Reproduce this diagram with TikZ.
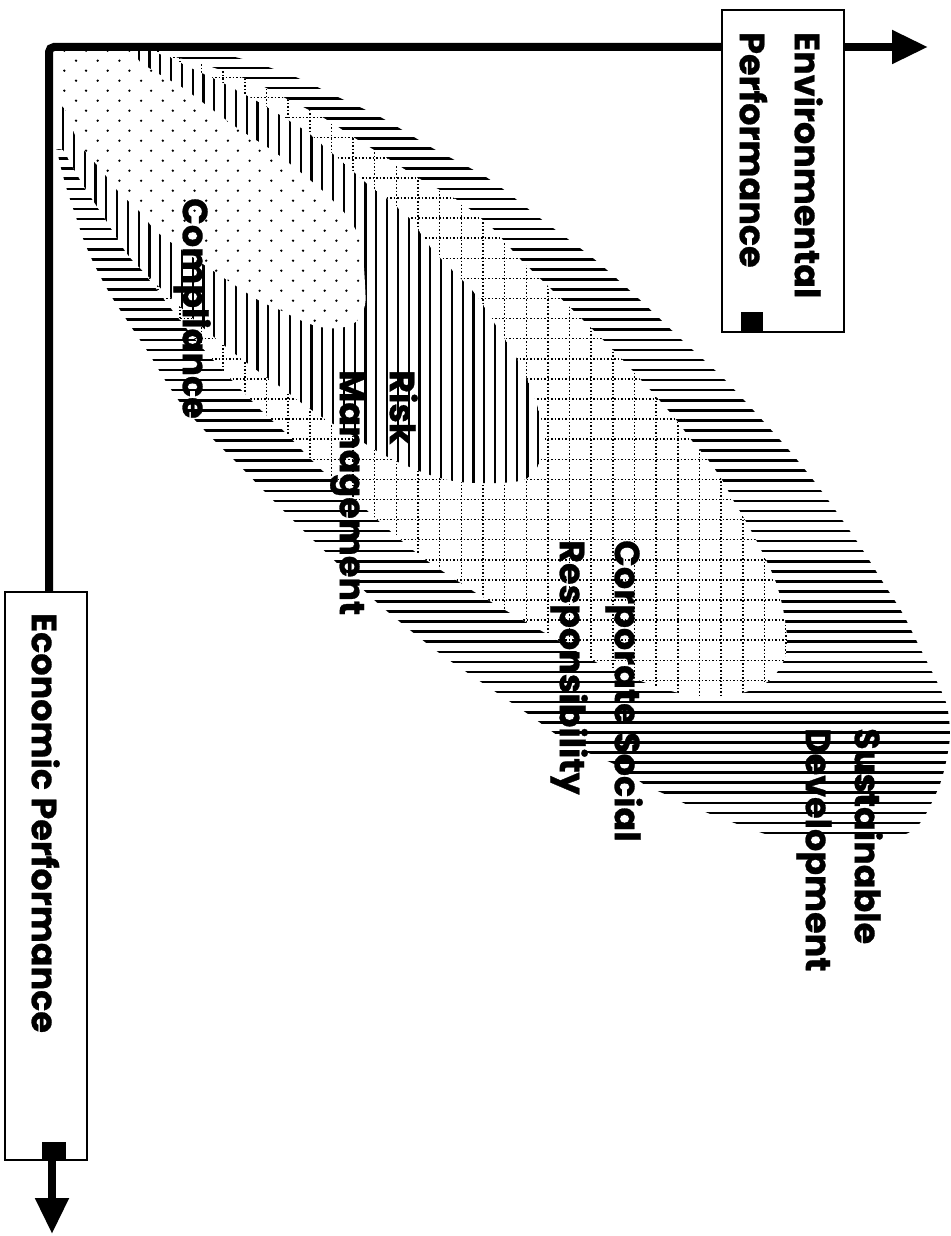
\documentclass[tikz,border=0pt]{standalone}
\usepackage{fontspec}
\newfontfamily\lblfont{Poppins}[BoldFeatures={FakeBold=0.8}]
\usetikzlibrary{arrows.meta}

% Outlines of the four nested fields, all starting at the origin of the axes
\newcommand\sdshape[1]{\path[#1] plot[smooth cycle,tension=0.5] coordinates {
 (40,40) (150,47) (205,52) (235,57) (268,67) (298,78) (340,98) (382,118) (434,149)
 (489,179) (541,219) (594,259) (639,299) (683,341) (726,381) (781,441) (814,481)
 (843,521) (864,552) (884,584) (903,614) (922,652) (938,684) (947,706) (950,735)
 (946,762) (940,784) (931,804) (920,823) (903,835) (860,840) (800,839) (772,836)
 (740,825) (713,815) (688,805) (667,795) (645,785) (618,766) (572,745) (528,714)
 (484,684) (442,655) (405,626) (372,598) (338,564) (305,532) (270,497) (238,464)
 (208,434) (182,405) (165,380) (148,352) (128,322) (110,294) (95,266) (84,241)
 (75,214) (67,190) (61,168) (56,148) (45,120)};}
\newcommand\csrshape[1]{\path[#1] plot[smooth cycle,tension=0.5] coordinates {
 (40,40) (150,48) (172,56) (208,66) (238,76) (262,86) (283,97) (303,107) (322,117)
 (338,127) (353,137) (387,158) (420,179) (457,200) (490,226) (520,259) (553,291)
 (585,322) (615,352) (641,380) (660,401) (677,421) (692,441) (708,460) (722,480)
 (733,500) (745,520) (756,540) (766,560) (775,580) (781,600) (785,620) (787,640)
 (784,660) (770,680) (742,693) (700,697) (655,686) (600,664) (547,634) (512,614)
 (478,594) (447,574) (418,554) (380,522) (345,490) (323,471) (303,451) (285,432)
 (262,411) (230,378) (200,345) (173,311) (158,291) (143,271) (132,251) (121,235)
 (107,212) (95,199) (85,189) (77,170) (70,158) (62,145) (50,130)};}
\newcommand\riskshape[1]{\path[#1] plot[smooth cycle,tension=0.5] coordinates {
 (40,40) (140,49) (162,55) (173,59) (195,70) (217,80) (240,92) (262,104) (283,117)
 (307,132) (327,149) (347,166) (365,182) (387,199) (410,219) (432,249) (453,271)
 (477,296) (498,329) (512,350) (521,367) (531,388) (540,415) (545,440) (539,464)
 (526,479) (500,483) (460,482) (430,475) (398,462) (377,451) (347,432) (325,419)
 (303,404) (282,388) (262,374) (230,350) (200,325) (172,299) (150,278) (128,255)
 (107,222) (85,188) (72,166) (63,150) (50,140)};}
\newcommand\compshape[1]{\path[#1] plot[smooth cycle,tension=0.5] coordinates {
 (40,40) (125,48) (140,62) (162,76) (183,88) (210,108) (240,130) (273,151) (300,172)
 (325,193) (347,216) (358,235) (363,258) (365,285) (365,305) (357,321) (340,328)
 (320,327) (300,320) (280,310) (260,301) (230,282) (200,262) (172,243) (155,230)
 (140,212) (118,191) (103,172) (90,157) (80,145) (72,128) (64,108) (50,95)};}

\begin{document}
\begin{tikzpicture}[x=1pt,y=-1pt,
  axis/.style={line width=8pt},
  tip/.style={-{Triangle[length=36pt,width=32pt]}},
  box/.style={draw, line width=2pt, inner sep=0pt},
  lbl/.style={font=\lblfont\bfseries\fontsize{35}{50}\selectfont, rotate=-90,
              anchor=north west, align=left, inner sep=0pt},
  hatchH/.style={line width=2.6pt},
  hatchV/.style={line width=2.2pt},
  gridln/.style={line width=1.5pt, dash pattern=on 1.5pt off 2pt},
]
\useasboundingbox (0,0) rectangle (950,1236);

% nested fields, largest first, each one covering the one below it
\begin{scope}
  \clip (50,47) rectangle (950,900);
  \begin{scope}
    \sdshape{clip}
    \foreach \k in {0,...,78}
      \draw[hatchH] (40,{58+10.065*\k}) -- (950,{58+10.065*\k});
  \end{scope}
  \csrshape{fill=white}
  \begin{scope}
    \csrshape{clip}
    \foreach \k in {-8,...,25}
      \draw[gridln] (40,{198+20.1*\k}) -- (800,{198+20.1*\k});
    \foreach \k in {-17,...,17}
      \draw[gridln] ({418+21.65*\k},40) -- ({418+21.65*\k},710);
  \end{scope}
  \riskshape{fill=white}
  \begin{scope}
    \riskshape{clip}
    \foreach \k in {0,...,45}
      \draw[hatchV] ({63+10.8*\k},40) -- ({63+10.8*\k},500);
  \end{scope}
  \compshape{fill=white}
  \begin{scope}
    \compshape{clip}
    \foreach \r in {0,...,28}{
      \pgfmathsetmacro\xo{mod(\r,2)==1 ? 76 : 64.3}
      \foreach \c in {0,...,14}
        \fill ({\xo+21.7*\c},{50.7+10*\r}) circle (1.3pt);
    }
  \end{scope}
\end{scope}

% axis boxes
\node[box, minimum width=122pt, minimum height=322pt] (env) at (783,171) {};
\node[box, minimum width=82pt, minimum height=568pt] (eco) at (46,876) {};
\fill ([xshift=20pt]env.south west) rectangle ([xshift=42pt,yshift=21pt]env.south west);
\fill ([xshift=38pt]eco.south west) rectangle ([xshift=62pt,yshift=19pt]eco.south west);

% axes
\coordinate (corner) at (49,47);
\coordinate (envtip) at (928,47);
\coordinate (ecotip) at (52,1234);
\draw[axis, rounded corners=5pt] (corner |- eco.north) -- (corner) -- (corner -| env.west);
\draw[axis, tip] (env.east |- corner) -- (envtip);
\draw[axis, tip] (eco.south -| ecotip) -- (ecotip);

% labels
\node[lbl] (envlbl) at (823,32) {Environmental\\[5pt]Performance};
\node[lbl] (ecolbl) at (60,613) {Economic Performance};
\node[lbl] (comp) at (211,198) {Compliance};
\node[lbl] (risk) at (418,370) {Risk\\Management};
\node[lbl] (csr) at (643,540) {Corporate Social\\[5pt]Responsibility};
\node[lbl] (sd) at (883,728) {Sustainable\\[-1pt]Development};
\end{tikzpicture}
\end{document}
